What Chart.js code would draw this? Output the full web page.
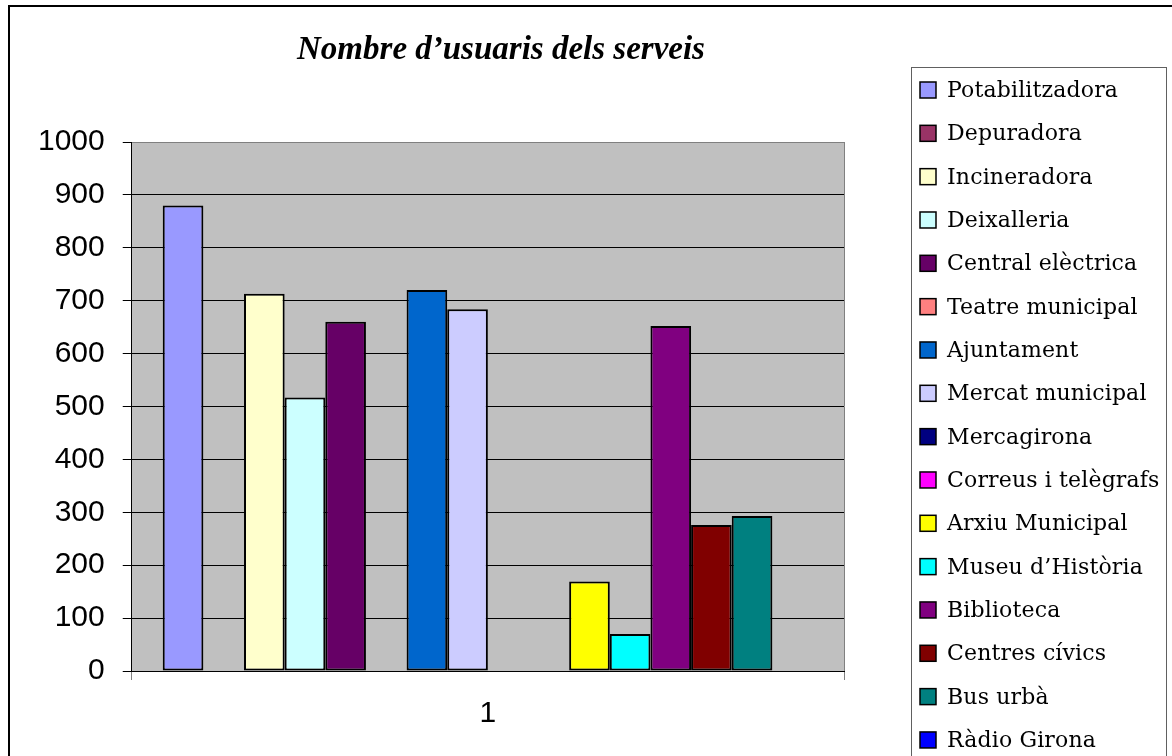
<!DOCTYPE html>
<html>
<head>
<meta charset="utf-8">
<title>Nombre d'usuaris dels serveis</title>
<script src="https://cdn.jsdelivr.net/npm/chart.js@4.4.1/dist/chart.umd.min.js"></script>
<style>
  html, body { margin: 0; padding: 0; overflow: hidden; background: #fff; }
  #wrap { width: 1172px; height: 800px; }
</style>
</head>
<body>
<div id="wrap"><canvas id="usuarisChart" width="1172" height="800"></canvas></div>
<script>
// Dades del gràfic
const chartTitle = "Nombre d\u2019usuaris dels serveis";
const categories = ['1'];
const services = [
  'Potabilitzadora', 'Depuradora', 'Incineradora', 'Deixalleria',
  'Central elèctrica', 'Teatre municipal', 'Ajuntament', 'Mercat municipal',
  'Mercagirona', 'Correus i telègrafs', 'Arxiu Municipal', 'Museu d\u2019Història',
  'Biblioteca', 'Centres cívics', 'Bus urbà', 'Ràdio Girona'
];
const users = [880, 0, 713, 517, 660, 0, 720, 684, 0, 0, 169, 70, 652, 276, 293, 0];
const colors = [
  '#9999FF', '#993366', '#FFFFCC', '#CCFFFF', '#660066', '#FF8080', '#0066CC', '#CCCCFF',
  '#000080', '#FF00FF', '#FFFF00', '#00FFFF', '#800080', '#800000', '#008080', '#0000FF'
];

// marc exterior, fons gris de l'àrea de traçat, títol i llegenda
const decor = {
  id: 'decor',
  beforeDraw(chart) {
    const { ctx, chartArea: a } = chart;
    ctx.save();
    ctx.fillStyle = '#fff';
    ctx.fillRect(0, 0, chart.width, chart.height);
    ctx.strokeStyle = '#000';
    ctx.lineWidth = 2;
    ctx.strokeRect(9, 6, chart.width + 20, chart.height + 20);
    ctx.fillStyle = '#C0C0C0';
    ctx.fillRect(a.left, a.top, a.right - a.left, a.bottom - a.top);
    ctx.restore();
  },
  afterDraw(chart) {
    const { ctx } = chart;
    ctx.save();
    // títol
    ctx.fillStyle = '#000';
    ctx.font = "italic bold 33px 'Liberation Serif', serif";
    ctx.textAlign = 'center';
    ctx.textBaseline = 'alphabetic';
    ctx.fillText(chartTitle, 501, 59);

    // llegenda
    const boxLeft = 911, boxTop = 67, boxRight = 1166;
    ctx.strokeStyle = '#606060';
    ctx.lineWidth = 1;
    ctx.strokeRect(boxLeft + 0.5, boxTop + 0.5, boxRight - boxLeft, chart.height);
    ctx.font = "22px 'DejaVu Serif', serif";
    if ('letterSpacing' in ctx) ctx.letterSpacing = '0.15px';
    ctx.textAlign = 'left';
    chart.data.datasets.forEach((ds, i) => {
      const base = 97 + i * 43.33;
      ctx.fillStyle = ds.backgroundColor;
      ctx.fillRect(920, base - 15, 16, 16);
      ctx.strokeStyle = '#000';
      ctx.lineWidth = 1.5;
      ctx.strokeRect(920, base - 15, 16, 16);
      ctx.fillStyle = '#000';
      ctx.fillText(ds.label, 947, base);
    });
    ctx.restore();
  }
};

new Chart(document.getElementById('usuarisChart'), {
  type: 'bar',
  data: {
    labels: categories,
    datasets: services.map((name, i) => ({
      label: name,
      data: [users[i]],
      backgroundColor: colors[i],
      borderColor: '#000',
      borderWidth: 2,
      borderSkipped: false,
      barPercentage: 1,
      categoryPercentage: 0.913
    }))
  },
  options: {
    responsive: false,
    animation: false,
    devicePixelRatio: 1,
    layout: { padding: { left: 20, right: 328, top: 142, bottom: 52 } },
    plugins: {
      legend: { display: false },
      title: { display: false },
      tooltip: { enabled: false }
    },
    scales: {
      x: {
        grid: { color: '#808080', drawOnChartArea: true, tickLength: 9, lineWidth: 1 },
        border: { color: '#000', width: 1 },
        ticks: {
          color: '#000',
          padding: 16,
          font: { family: "'Liberation Sans', Arial, sans-serif", size: 30 }
        }
      },
      y: {
        min: 0,
        max: 1000,
        grid: {
          color: ctx => (ctx.tick && ctx.tick.value === 1000 ? '#808080' : '#000'),
          tickColor: '#000',
          tickLength: 9,
          lineWidth: 1
        },
        border: { color: '#000', width: 1 },
        ticks: {
          stepSize: 100,
          color: '#000',
          padding: 18,
          callback: v => String(v),
          font: { family: "'Liberation Sans', Arial, sans-serif", size: 30 }
        }
      }
    }
  },
  plugins: [decor]
});
</script>
</body>
</html>
